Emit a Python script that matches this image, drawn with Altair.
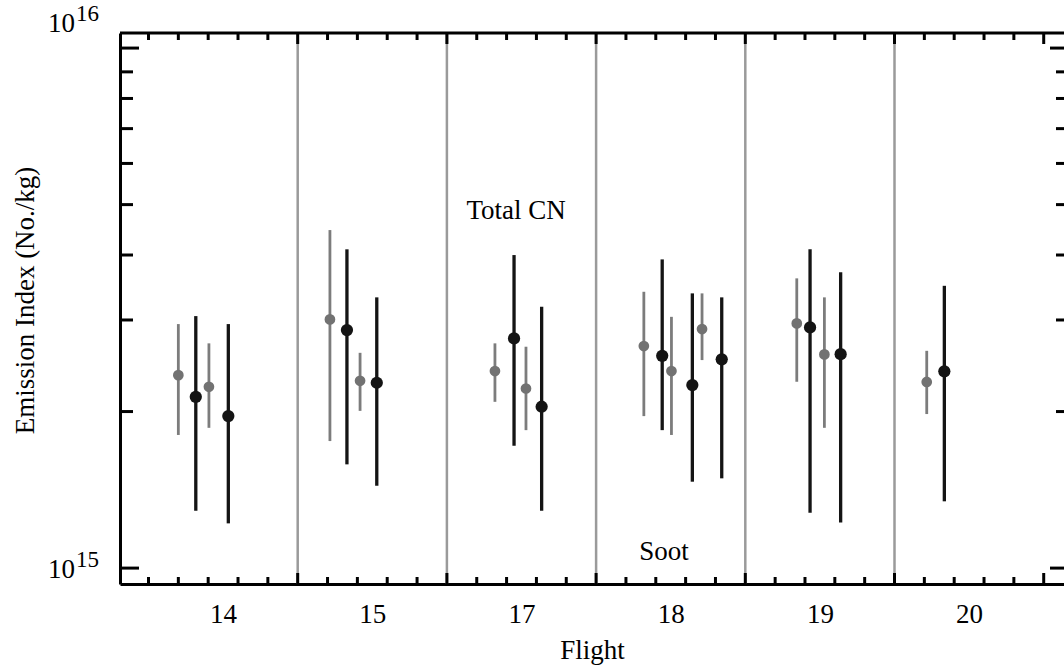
import json
import altair as alt
import pandas as pd

# ---------------- data ----------------
flights = ["14", "15", "17", "18", "19", "20"]
flight_pos = [0, 1, 2, 3, 4, 5]
separators = [0.5, 1.5, 2.5, 3.5, 4.5]

# Total CN (gray) measurements: position, value, lower, upper (units of 1e15 No./kg)
cn_x = [-0.300, -0.095, 0.716, 0.918, 1.822, 2.030, 2.820, 3.005, 3.210, 3.845, 4.030, 4.716]
cn_mid = [2.350, 2.232, 3.008, 2.292, 2.393, 2.215, 2.673, 2.393, 2.882, 2.955, 2.576, 2.280]
cn_lo = [1.803, 1.861, 1.755, 2.006, 2.088, 1.842, 1.960, 1.803, 2.512, 2.282, 1.861, 1.978]
cn_hi = [2.946, 2.705, 4.467, 2.594, 2.705, 2.665, 3.399, 3.042, 3.375, 3.607, 3.316, 2.617]

# Soot (black) measurements
soot_x = [-0.183, 0.035, 0.830, 1.030, 1.950, 2.135, 2.943, 3.145, 3.342, 3.934, 4.139, 4.834]
soot_mid = [2.135, 1.960, 2.869, 2.272, 2.765, 2.043, 2.560, 2.249, 2.520, 2.903, 2.579, 2.390]
soot_lo = [1.289, 1.219, 1.583, 1.440, 1.719, 1.289, 1.842, 1.466, 1.488, 1.277, 1.224, 1.344]
soot_hi = [3.052, 2.946, 4.102, 3.316, 3.999, 3.180, 3.923, 3.375, 3.316, 4.102, 3.704, 3.490]

ann_text = ["Total CN", "Soot"]
ann_x = [1.964, 2.955]
ann_y = [4.685e15, 1.036e15]

ytick_major = [1e15, 1e16]
ytick_minor = [2e15, 3e15, 4e15, 5e15, 6e15, 7e15, 8e15, 9e15]
ylab_exp = ["15", "16"]

xtick_major = [0.5, 1.5, 2.5, 3.5, 4.5, 5.5]
xtick_minor = [round(-0.5 + 0.2 * k, 2) for k in range(31)]
xtick_minor = [t for t in xtick_minor if t not in xtick_major]

# ---------------- layout ----------------
W, H = 944, 551
FONT = "Liberation Serif"
FS = 27
xs = alt.Scale(domain=[-0.691, 5.636], nice=False, zero=False)
ys = alt.Scale(type="log", domain=[9.32e14, 1.069e16], nice=False)

cn_df = pd.DataFrame({"x": cn_x, "v": [v * 1e15 for v in cn_mid],
                      "lo": [v * 1e15 for v in cn_lo], "hi": [v * 1e15 for v in cn_hi]})
soot_df = pd.DataFrame({"x": soot_x, "v": [v * 1e15 for v in soot_mid],
                        "lo": [v * 1e15 for v in soot_lo], "hi": [v * 1e15 for v in soot_hi]})

label_expr = json.dumps(flights) + "[round(datum.value)]"
xaxis = alt.Axis(values=flight_pos, labelExpr=label_expr, labelFont=FONT, labelFontSize=FS,
                 labelColor="black", labelBaseline="alphabetic", labelPadding=38,
                 ticks=False, domainColor="black", domainWidth=3, grid=False,
                 titleFont=FONT, titleFontSize=FS, titleFontWeight="normal", titleColor="black",
                 titleX=W / 2, titleY=74, titleAlign="center", titleBaseline="alphabetic")
yaxis = alt.Axis(labels=False, ticks=False, domainColor="black", domainWidth=3, grid=False,
                 titleFont=FONT, titleFontSize=FS, titleFontWeight="normal", titleColor="black",
                 titleAngle=270, titleX=-87, titleY=267, titleAlign="center",
                 titleBaseline="alphabetic")
XT = "Flight"
YT = "Emission Index (No./kg)"


def X(field):
    return alt.X(field, scale=xs, axis=xaxis, title=XT)


def Y(field):
    return alt.Y(field, scale=ys, axis=yaxis, title=YT)


sep = alt.Chart(pd.DataFrame({"x": separators})).mark_rule(
    color="#9a9a9a", strokeWidth=2.5).encode(x=X("x:Q"))

cn_bar = alt.Chart(cn_df).mark_rule(color="#7c7c7c", strokeWidth=2.8).encode(
    x=X("x:Q"), y=Y("lo:Q"), y2="hi:Q")
soot_bar = alt.Chart(soot_df).mark_rule(color="#141414", strokeWidth=3.3).encode(
    x=X("x:Q"), y=Y("lo:Q"), y2="hi:Q")
cn_pt = alt.Chart(cn_df).mark_circle(size=115, color="#727272", opacity=1).encode(
    x=X("x:Q"), y=Y("v:Q"))
soot_pt = alt.Chart(soot_df).mark_circle(size=150, color="#141414", opacity=1).encode(
    x=X("x:Q"), y=Y("v:Q"))

ann = alt.Chart(pd.DataFrame({"t": ann_text, "x": ann_x, "y": ann_y})).mark_text(
    font=FONT, fontSize=FS, color="black", align="center", baseline="alphabetic").encode(
    x=X("x:Q"), y=Y("y:Q"), text="t:N")


def yrule(vals, x1, x2):
    return alt.Chart(pd.DataFrame({"v": vals})).mark_rule(color="black", strokeWidth=3).encode(
        y=Y("v:Q"), x=alt.value(x1), x2=alt.value(x2))


def xrule(vals, y1, y2):
    return alt.Chart(pd.DataFrame({"x": vals})).mark_rule(color="black", strokeWidth=3).encode(
        x=X("x:Q"), y=alt.value(y1), y2=alt.value(y2))


ticks = [
    yrule(ytick_minor, 0, 13), yrule(ytick_major, 0, 19),
    yrule(ytick_minor, W - 8, W), yrule(ytick_major, W - 14, W),
    xrule(xtick_minor, H, H - 7), xrule(xtick_major, H, H - 11),
    xrule(xtick_minor, 0, 7), xrule(xtick_major, 0, 11),
]
top_line = alt.Chart(pd.DataFrame({"a": [0]})).mark_rule(color="black", strokeWidth=3).encode(
    x=alt.value(0), x2=alt.value(W), y=alt.value(0))

ylab_df = pd.DataFrame({"v": ytick_major, "base": ["10", "10"], "exp": ylab_exp})


def ylab(cond, field, x, align, size, dy):
    return alt.Chart(ylab_df).transform_filter(cond).mark_text(
        font=FONT, fontSize=size, color="black", align=align, baseline="alphabetic", dy=dy).encode(
        y=Y("v:Q"), x=alt.value(x), text=f"{field}:N")


ylabels = [
    ylab(alt.datum.v < 5e15, "base", -45, "right", FS, 10),
    ylab(alt.datum.v < 5e15, "exp", -44, "left", 23, -1),
    ylab(alt.datum.v > 5e15, "base", -45, "right", FS, -16),
    ylab(alt.datum.v > 5e15, "exp", -44, "left", 23, -27),
]

chart = alt.layer(sep, cn_bar, soot_bar, cn_pt, soot_pt, ann, top_line, *ticks, *ylabels).properties(
    width=W, height=H,
    autosize=alt.AutoSizeParams(type="none"),
    padding={"left": 120, "top": 33, "right": 0, "bottom": 86},
    background="white",
).configure_view(stroke=None)

chart.save("out.html", embed_options={"renderer": "svg", "actions": False})
